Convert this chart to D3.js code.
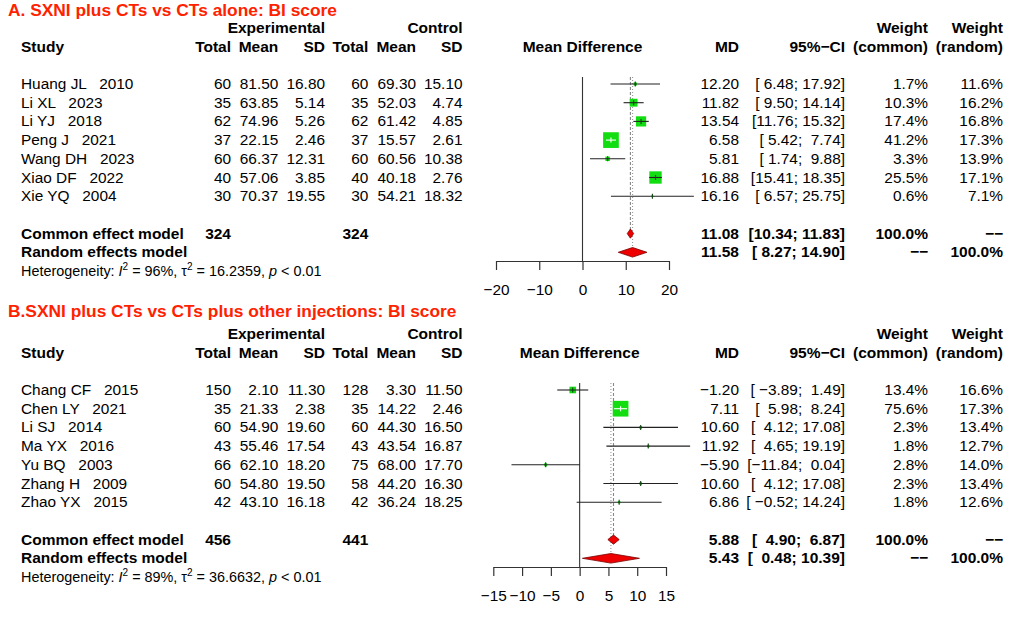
<!DOCTYPE html>
<html><head><meta charset="utf-8">
<script src="https://cdn.jsdelivr.net/npm/d3@7"></script>
<style>
html,body{margin:0;padding:0;background:#fff;}
svg text{font-family:"Liberation Sans",Arial,Helvetica,sans-serif;white-space:pre;}
</style></head><body>
<svg id="chart" width="1024" height="624"></svg>
<script>
// ---------- Panel A data ----------
const titleA = "A. SXNI plus CTs vs CTs alone: BI score";
const authorsA = ["Huang JL","Li XL","Li YJ","Peng J","Wang DH","Xiao DF","Xie YQ"];
const yearsA = [2010,2023,2018,2021,2023,2022,2004];
const expTotalA = [60,35,62,37,60,40,30];
const expMeanA = [81.50,63.85,74.96,22.15,66.37,57.06,70.37];
const expSDA = [16.80,5.14,5.26,2.46,12.31,3.85,19.55];
const ctlTotalA = [60,35,62,37,60,40,30];
const ctlMeanA = [69.30,52.03,61.42,15.57,60.56,40.18,54.21];
const ctlSDA = [15.10,4.74,4.85,2.61,10.38,2.76,18.32];
const mdA = [12.20,11.82,13.54,6.58,5.81,16.88,16.16];
const lowerA = [6.48,9.50,11.76,5.42,1.74,15.41,6.57];
const upperA = [17.92,14.14,15.32,7.74,9.88,18.35,25.75];
const wCommonA = [1.7,10.3,17.4,41.2,3.3,25.5,0.6];
const wRandomA = [11.6,16.2,16.8,17.3,13.9,17.1,7.1];
const commonA = [11.08,10.34,11.83];
const randomA = [11.58,8.27,14.90];
const totalsA = [324,324];
const hetA = ["96%","16.2359","< 0.01"];
const domainA = [-20,20];
const ticksA = [-20,-10,0,10,20];

// ---------- Panel B data ----------
const titleB = "B.SXNI plus CTs vs CTs plus other injections: BI score";
const authorsB = ["Chang CF","Chen LY","Li SJ","Ma YX","Yu BQ","Zhang H","Zhao YX"];
const yearsB = [2015,2021,2014,2016,2003,2009,2015];
const expTotalB = [150,35,60,43,66,60,42];
const expMeanB = [2.10,21.33,54.90,55.46,62.10,54.80,43.10];
const expSDB = [11.30,2.38,19.60,17.54,18.20,19.50,16.18];
const ctlTotalB = [128,35,60,43,75,58,42];
const ctlMeanB = [3.30,14.22,44.30,43.54,68.00,44.20,36.24];
const ctlSDB = [11.50,2.46,16.50,16.87,17.70,16.30,18.25];
const mdB = [-1.20,7.11,10.60,11.92,-5.90,10.60,6.86];
const lowerB = [-3.89,5.98,4.12,4.65,-11.84,4.12,-0.52];
const upperB = [1.49,8.24,17.08,19.19,0.04,17.08,14.24];
const wCommonB = [13.4,75.6,2.3,1.8,2.8,2.3,1.8];
const wRandomB = [16.6,17.3,13.4,12.7,14.0,13.4,12.6];
const commonB = [5.88,4.90,6.87];
const randomB = [5.43,0.48,10.39];
const totalsB = [456,441];
const hetB = ["89%","36.6632","< 0.01"];
const domainB = [-15,15];
const ticksB = [-15,-10,-5,0,5,10,15];

// ---------- drawing ----------
const svg = d3.select("#chart");
svg.append("rect").attr("width",1024).attr("height",624).attr("fill","#fff");
const FS = 15.4, FSB = 15.5, FSH = 14.4, FST = 17.35;
const STEP = 18.7;
const cols = {study:21, eT:231, eM:278.3, eS:325, cT:368.3, cM:416, cS:462.5, md:739, ci:845, wc:928, wr:1003};
const f2 = d3.format(".2f"), f1 = d3.format(".1f");
const padTo = (s, m) => " ".repeat(Math.max(0, m - s.length)) + s;
const NA = "\u2212\u2212";

function txt(g, x, y, s, anchor, bold, size, fill) {
  return g.append("text").attr("x", x).attr("y", y)
    .attr("text-anchor", anchor || "start")
    .attr("font-weight", bold ? "bold" : "normal")
    .attr("font-size", size || (bold ? FSB : FS))
    .attr("fill", fill || "#000")
    .text(s);
}

function panel(p) {
  const g = svg.append("g");
  const rowY = k => p.baseY + k * STEP;
  const cy = k => rowY(k) - 5;
  const x = d3.scaleLinear().domain(p.domain).range(p.range);
  const axisY = p.baseY + 172;
  const xc = (p.range[0] + p.range[1]) / 2;

  // title
  txt(g, 8, p.titleY, p.title, "start", true, FST, "#ff2200");
  // headers
  const h1 = rowY(-3) + 0.5;
  txt(g, cols.eS, h1, "Experimental", "end", true);
  txt(g, cols.cS, h1, "Control", "end", true);
  txt(g, cols.wc, h1, "Weight", "end", true);
  txt(g, cols.wr, h1, "Weight", "end", true);
  const h2 = rowY(-2);
  txt(g, cols.study, h2, "Study", "start", true);
  [["Total",cols.eT],["Mean",cols.eM],["SD",cols.eS],["Total",cols.cT],["Mean",cols.cM],["SD",cols.cS],
   ["MD",cols.md],["95%\u2212CI",cols.ci],["(common)",cols.wc],["(random)",cols.wr]]
    .forEach(([s, cx]) => txt(g, cx, h2, s, "end", true));
  txt(g, xc, h2, "Mean Difference", "middle", true);

  // CI strings padded like R (studies and pooled formatted together)
  const allLo = p.lower.concat([p.common[1], p.random[1]]).map(f2);
  const allHi = p.upper.concat([p.common[2], p.random[2]]).map(f2);
  const mLo = d3.max(allLo, d => d.length), mHi = d3.max(allHi, d => d.length);
  const ciStr = i => "[" + padTo(allLo[i], mLo) + "; " + padTo(allHi[i], mHi) + "]";
  const n = p.authors.length;
  const wmax = d3.max(p.wC);

  // reference lines
  const topY = cy(0) - 7;
  g.append("line").attr("x1", x(0)).attr("x2", x(0)).attr("y1", topY).attr("y2", axisY)
    .attr("stroke", "#333").attr("stroke-width", 1.1);
  g.append("line").attr("x1", x(p.common[0])).attr("x2", x(p.common[0])).attr("y1", topY).attr("y2", cy(8))
    .attr("stroke", "#888").attr("stroke-width", 1.1).attr("stroke-dasharray", "3,2");
  g.append("line").attr("x1", x(p.random[0])).attr("x2", x(p.random[0])).attr("y1", topY).attr("y2", cy(9) - 4)
    .attr("stroke", "#999").attr("stroke-width", 1.1).attr("stroke-dasharray", "1,2");

  p.authors.forEach((a, i) => {
    const y = rowY(i);
    txt(g, cols.study, y, a + "   " + p.years[i]);
    txt(g, cols.eT, y, String(p.eT[i]), "end");
    txt(g, cols.eM, y, f2(p.eM[i]), "end");
    txt(g, cols.eS, y, f2(p.eS[i]), "end");
    txt(g, cols.cT, y, String(p.cT[i]), "end");
    txt(g, cols.cM, y, f2(p.cM[i]), "end");
    txt(g, cols.cS, y, f2(p.cS[i]), "end");
    txt(g, cols.md, y, f2(p.md[i]), "end");
    txt(g, cols.ci, y, ciStr(i), "end");
    txt(g, cols.wc, y, f1(p.wC[i]) + "%", "end");
    txt(g, cols.wr, y, f1(p.wR[i]) + "%", "end");

    // marks
    const c = cy(i);
    const s = 15.7 * Math.sqrt(p.wC[i] / wmax);
    const x1 = x(p.lower[i]), x2 = x(p.upper[i]), xm = x(p.md[i]);
    const inside = (x2 - x1) <= s;
    g.append("rect").attr("x", xm - s / 2).attr("y", c - s / 2).attr("width", s).attr("height", s)
      .attr("fill", "#11dd11");
    g.append("line").attr("x1", x1).attr("x2", x2).attr("y1", c).attr("y2", c)
      .attr("stroke", inside ? "#ffffff" : "#222").attr("stroke-width", 1.1);
    g.append("line").attr("x1", xm).attr("x2", xm).attr("y1", c - 2.5).attr("y2", c + 2.5)
      .attr("stroke", inside ? "#ffffff" : "#114411").attr("stroke-width", 1.1);
  });

  // pooled rows
  const yc = rowY(8), yr = rowY(9);
  txt(g, cols.study, yc, "Common effect model", "start", true);
  txt(g, cols.eT, yc, String(p.totals[0]), "end", true);
  txt(g, cols.cT, yc, String(p.totals[1]), "end", true);
  txt(g, cols.md, yc, f2(p.common[0]), "end", true);
  txt(g, cols.ci, yc, ciStr(n), "end", true);
  txt(g, cols.wc, yc, "100.0%", "end", true);
  txt(g, cols.wr, yc, NA, "end", true);
  txt(g, cols.study, yr, "Random effects model", "start", true);
  txt(g, cols.md, yr, f2(p.random[0]), "end", true);
  txt(g, cols.ci, yr, ciStr(n + 1), "end", true);
  txt(g, cols.wc, yr, NA, "end", true);
  txt(g, cols.wr, yr, "100.0%", "end", true);

  const diamond = (v, c, h) => `M${x(v[1])},${c}L${x(v[0])},${c - h}L${x(v[2])},${c}L${x(v[0])},${c + h}Z`;
  g.append("path").attr("d", diamond(p.common, cy(8), 4.6)).attr("fill", "#ee0000").attr("stroke", "#7a0000").attr("stroke-width", 0.8);
  g.append("path").attr("d", diamond(p.random, cy(9), 4.8)).attr("fill", "#ee0000").attr("stroke", "#7a0000").attr("stroke-width", 0.8);

  // heterogeneity
  const ht = g.append("text").attr("x", cols.study).attr("y", rowY(10)).attr("font-size", FSH).attr("fill", "#000");
  ht.append("tspan").text("Heterogeneity: ");
  ht.append("tspan").attr("font-style", "italic").text("I");
  ht.append("tspan").attr("dy", -6).attr("font-size", 10).text("2");
  ht.append("tspan").attr("dy", 6).text(" = " + p.het[0] + ", \u03c4");
  ht.append("tspan").attr("dy", -6).attr("font-size", 10).text("2");
  ht.append("tspan").attr("dy", 6).text(" = " + p.het[1] + ", ");
  ht.append("tspan").attr("font-style", "italic").text("p");
  ht.append("tspan").text(" " + p.het[2]);

  // axis
  const ax = g.append("g").attr("transform", `translate(0,${axisY})`)
    .call(d3.axisBottom(x).tickValues(p.ticks).tickSize(9).tickSizeOuter(0).tickPadding(14));
  ax.attr("font-family", null).attr("font-size", null);
  ax.selectAll("text").attr("font-size", FS).attr("fill", "#000");
  ax.selectAll("line,path").attr("stroke", "#333").attr("stroke-width", 1.2);
}

panel({title: titleA, titleY: 16, baseY: 89, authors: authorsA, years: yearsA,
  eT: expTotalA, eM: expMeanA, eS: expSDA, cT: ctlTotalA, cM: ctlMeanA, cS: ctlSDA,
  md: mdA, lower: lowerA, upper: upperA, wC: wCommonA, wR: wRandomA,
  common: commonA, random: randomA, totals: totalsA, het: hetA,
  domain: domainA, range: [496, 669], ticks: ticksA});

panel({title: titleB, titleY: 316.5, baseY: 395, authors: authorsB, years: yearsB,
  eT: expTotalB, eM: expMeanB, eS: expSDB, cT: ctlTotalB, cM: ctlMeanB, cS: ctlSDB,
  md: mdB, lower: lowerB, upper: upperB, wC: wCommonB, wR: wRandomB,
  common: commonB, random: randomB, totals: totalsB, het: hetB,
  domain: domainB, range: [493.3, 666], ticks: ticksB});
</script>
</body></html>
